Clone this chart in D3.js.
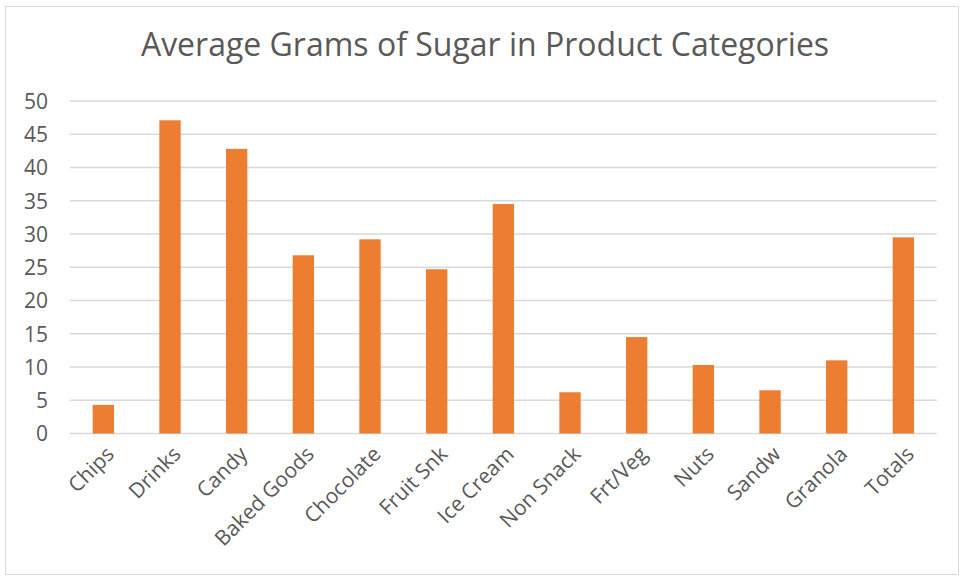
<!DOCTYPE html>
<html>
<head>
<meta charset="utf-8">
<script src="https://cdn.jsdelivr.net/npm/d3@7"></script>
<style>
  html, body { margin: 0; padding: 0; background: #fff; }
  svg { display: block; }
  text { font-family: "Open Sans", "Liberation Sans", sans-serif; fill: #595959; }
</style>
</head>
<body>
<svg id="chart" width="964" height="581"></svg>
<script>
// Average sugar content (grams) by product category
const categories = ["Chips", "Drinks", "Candy", "Baked Goods", "Chocolate", "Fruit Snk",
  "Ice Cream", "Non Snack", "Frt/Veg", "Nuts", "Sandw", "Granola", "Totals"];
const sugarGrams = [4.3, 47.1, 42.8, 26.8, 29.2, 24.7, 34.5, 6.2, 14.5, 10.3, 6.5, 11.0, 29.5];
const yTicks = [0, 5, 10, 15, 20, 25, 30, 35, 40, 45, 50];
const chartTitle = "Average Grams of Sugar in Product Categories";

const svg = d3.select("#chart");
const W = 964, H = 581;
const plot = { left: 70, right: 936.7, top: 101, bottom: 433.5 };
const labelFont = "'Open Sans', 'Liberation Sans', sans-serif";

// Outer chart frame
svg.append("rect")
  .attr("x", 5.5).attr("y", 6.5)
  .attr("width", W - 11).attr("height", H - 13)
  .attr("fill", "#fff").attr("stroke", "#d9d9d9").attr("stroke-width", 1);

const x = d3.scaleBand()
  .domain(categories)
  .range([plot.left, plot.right])
  .paddingInner(0.68)
  .paddingOuter(0.34);

const y = d3.scaleLinear()
  .domain([0, 50])
  .range([plot.bottom, plot.top]);

// Horizontal gridlines
svg.append("g")
  .selectAll("line")
  .data(yTicks)
  .join("line")
  .attr("x1", plot.left).attr("x2", plot.right)
  .attr("y1", d => y(d)).attr("y2", d => y(d))
  .attr("stroke", "#d9d9d9").attr("stroke-width", 1.3);

// Y axis labels
const yAxis = d3.axisLeft(y).tickValues(yTicks).tickSize(0).tickPadding(0);
const yG = svg.append("g")
  .attr("transform", `translate(${plot.left - 22},0)`)
  .call(yAxis);
yG.select(".domain").remove();
yG.selectAll("text")
  .attr("font-size", 21)
  .attr("font-family", labelFont)
  .attr("fill", "#595959")
  .attr("dy", "0.35em");

// Bars
svg.append("g")
  .selectAll("rect")
  .data(categories.map((c, i) => ({ c, v: sugarGrams[i] })))
  .join("rect")
  .attr("x", d => x(d.c))
  .attr("width", x.bandwidth())
  .attr("y", d => y(d.v))
  .attr("height", d => y(0) - y(d.v))
  .attr("fill", "#ed7d31");

// Category labels, rotated
const xAxis = d3.axisBottom(x).tickSize(0).tickPadding(0);
const xG = svg.append("g")
  .attr("transform", `translate(0,${plot.bottom})`)
  .call(xAxis);
xG.select(".domain").remove();
xG.selectAll("text")
  .attr("font-size", 21)
  .attr("font-family", labelFont)
  .attr("fill", "#595959")
  .attr("text-anchor", "end")
  .attr("dy", null)
  .attr("y", null)
  .attr("transform", "translate(12,22) rotate(-45)");

// Title
svg.append("text")
  .attr("x", 485).attr("y", 56)
  .attr("text-anchor", "middle")
  .attr("font-size", 32)
  .attr("fill", "#595959")
  .text(chartTitle);
</script>
</body>
</html>
